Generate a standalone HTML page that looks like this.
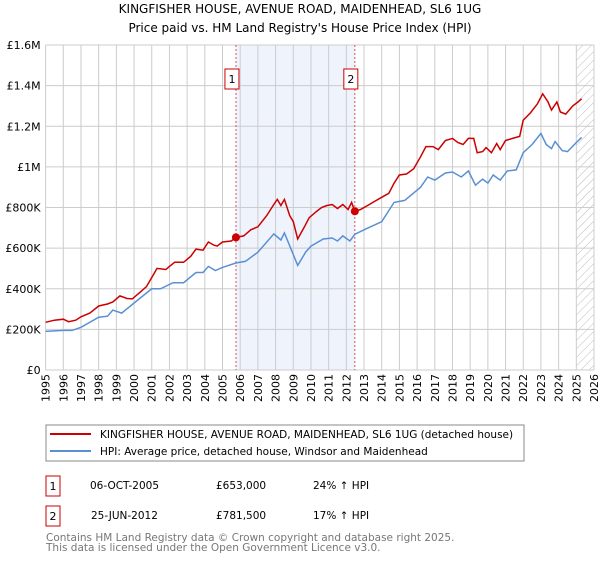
<!DOCTYPE html>
<html><head><meta charset="utf-8"><style>
body{margin:0;background:#fff;font-family:"Liberation Sans","DejaVu Sans",sans-serif;}
svg text{font-family:"DejaVu Sans","Liberation Sans",sans-serif;}
</style></head><body>
<svg id="c" width="600" height="560" xmlns="http://www.w3.org/2000/svg">
<text x="300" y="13" text-anchor="middle" font-size="12" fill="#000">KINGFISHER HOUSE, AVENUE ROAD, MAIDENHEAD, SL6 1UG</text>
<text x="300" y="32" text-anchor="middle" font-size="12" fill="#000">Price paid vs. HM Land Registry's House Price Index (HPI)</text>
<g id="grid"></g><g id="marks"></g><g id="axes"></g>
<rect x="46" y="425" width="478" height="36" fill="#fff" stroke="#888"/>
<line x1="50" y1="434" x2="91" y2="434" stroke="#cc0000" stroke-width="2"/>
<text x="100" y="438" font-size="10.5">KINGFISHER HOUSE, AVENUE ROAD, MAIDENHEAD, SL6 1UG (detached house)</text>
<line x1="50" y1="451" x2="91" y2="451" stroke="#5b8fd4" stroke-width="2"/>
<text x="100" y="455" font-size="10.5">HPI: Average price, detached house, Windsor and Maidenhead</text>
<rect x="46" y="476" width="14" height="20" fill="#fff" stroke="#cc0000"/>
<text x="53" y="490" font-size="11" text-anchor="middle">1</text>
<text x="90" y="489" font-size="10.5">06-OCT-2005</text>
<text x="216" y="489" font-size="10.5">£653,000</text>
<text x="313" y="489" font-size="10.5">24% ↑ HPI</text>
<rect x="46" y="506" width="14" height="20" fill="#fff" stroke="#cc0000"/>
<text x="53" y="520" font-size="11" text-anchor="middle">2</text>
<text x="91" y="519" font-size="10.5">25-JUN-2012</text>
<text x="216" y="519" font-size="10.5">£781,500</text>
<text x="313" y="519" font-size="10.5">17% ↑ HPI</text>
<text x="46" y="541" font-size="10.5" fill="#777">Contains HM Land Registry data © Crown copyright and database right 2025.</text>
<text x="46" y="551" font-size="10.5" fill="#777">This data is licensed under the Open Government Licence v3.0.</text>
</svg>
<script>
const redDates=[1995.0,1995.5,1996.0,1996.3,1996.7,1997.0,1997.5,1998.0,1998.5,1998.8,1999.2,1999.6,1999.9,2000.3,2000.7,2001.0,2001.3,2001.8,2002.0,2002.3,2002.8,2003.2,2003.5,2003.9,2004.2,2004.5,2004.7,2005.0,2005.5,2005.76,2006.2,2006.6,2007.0,2007.5,2007.9,2008.1,2008.3,2008.5,2008.8,2009.0,2009.25,2009.6,2009.9,2010.3,2010.6,2010.9,2011.2,2011.5,2011.8,2012.1,2012.3,2012.48,2012.8,2013.2,2013.6,2014.0,2014.4,2014.7,2015.0,2015.4,2015.8,2016.2,2016.5,2016.9,2017.2,2017.6,2018.0,2018.3,2018.6,2018.9,2019.2,2019.4,2019.7,2019.9,2020.2,2020.5,2020.7,2021.0,2021.4,2021.8,2022.0,2022.4,2022.8,2023.1,2023.4,2023.6,2023.9,2024.1,2024.4,2024.8,2025.1,2025.3];
const redValues=[235,245,250,238,245,262,280,315,325,335,365,352,350,380,410,455,500,495,510,530,530,560,595,590,630,615,610,630,635,653,660,690,705,760,815,840,810,840,760,730,645,700,750,780,800,810,815,795,815,790,825,781,790,810,830,850,870,920,960,965,990,1050,1100,1100,1085,1130,1140,1120,1110,1140,1140,1070,1075,1095,1070,1115,1085,1130,1140,1150,1230,1265,1310,1360,1320,1280,1320,1270,1260,1300,1320,1335];
const hpiDates=[1995.0,1996.0,1996.5,1997.0,1998.0,1998.5,1998.8,1999.3,2000.0,2001.0,2001.5,2002.2,2002.8,2003.5,2003.9,2004.2,2004.6,2005.0,2005.76,2006.3,2007.0,2007.9,2008.3,2008.5,2008.9,2009.25,2009.7,2010.0,2010.7,2011.2,2011.5,2011.8,2012.2,2012.48,2013.0,2014.0,2014.7,2015.3,2016.2,2016.6,2017.0,2017.6,2018.0,2018.5,2018.9,2019.3,2019.7,2020.0,2020.3,2020.7,2021.1,2021.6,2022.0,2022.5,2023.0,2023.3,2023.6,2023.8,2024.2,2024.5,2025.0,2025.3];
const hpiValues=[190,195,195,210,260,265,295,280,330,400,400,430,430,480,480,510,490,505,527,535,580,670,640,675,590,515,580,610,645,650,635,660,635,668,690,730,825,835,900,950,935,970,975,950,980,910,940,920,960,935,980,985,1070,1110,1165,1110,1090,1125,1080,1075,1120,1145];
const saleDates=[2005.76,2012.48];
const saleValues=[653,781.5];
const saleLabels=["1","2"];
const yTicks=[0,200,400,600,800,1000,1200,1400,1600];
const yTickLabels=["£0","£200K","£400K","£600K","£800K","£1M","£1.2M","£1.4M","£1.6M"];
const xTicks=[1995,1996,1997,1998,1999,2000,2001,2002,2003,2004,2005,2006,2007,2008,2009,2010,2011,2012,2013,2014,2015,2016,2017,2018,2019,2020,2021,2022,2023,2024,2025,2026];
const forecastStart=2025.0;

const X0=45.6,X1=594,Y0=370,Y1=45;
const x=d=>X0+(d-1995)/(2026-1995)*(X1-X0);
const y=v=>Y0-v/1600*(Y0-Y1);
const NS="http://www.w3.org/2000/svg";
function mk(t,a,p){const e=document.createElementNS(NS,t);for(const k in a)e.setAttribute(k,a[k]);p.appendChild(e);return e;}
const grid=document.getElementById('grid'),marks=document.getElementById('marks'),axes=document.getElementById('axes');
let sh=mk('rect',{x:x(saleDates[0]),y:Y1,width:x(saleDates[1])-x(saleDates[0]),height:Y0-Y1,fill:'#eef3fc'},grid);


const defs=mk('defs',{},grid);
const pat=mk('pattern',{id:'h',width:6,height:6,patternUnits:'userSpaceOnUse',patternTransform:'rotate(45)'},defs);
mk('line',{x1:0,y1:0,x2:0,y2:6,stroke:'#bbb','stroke-width':1},pat);
let ht=mk('rect',{x:x(forecastStart),y:Y1,width:X1-x(forecastStart),height:Y0-Y1,fill:'url(#h)'},grid);


xTicks.forEach(t=>{
 const l=mk('line',{x1:x(t),y1:Y1,x2:x(t),y2:Y0,stroke:'#ccc'},grid);
 
 
 const tx=mk('text',{x:0,y:0,'text-anchor':'end','font-size':'11',transform:'translate('+(x(t)+4)+','+(Y0+4)+') rotate(-90)'},axes);
 tx.textContent=t;
 
 
});
yTicks.forEach((t,i)=>{
 const l=mk('line',{x1:X0,y1:y(t),x2:X1,y2:y(t),stroke:'#ccc'},grid);
 
 
 const tx=mk('text',{x:X0-5,y:y(t)+4,'text-anchor':'end','font-size':'11'},axes);
 tx.textContent=yTickLabels[i];
 
 
});
saleDates.forEach((d,i)=>{
 const l=mk('line',{x1:x(d),y1:Y1,x2:x(d),y2:Y0,stroke:'#e05050','stroke-dasharray':'2,2'},grid);
 
 
 const b=mk('rect',{x:x(d)-11,y:69,width:14,height:20,fill:'#fff',stroke:'#cc0000'},grid);
 
 
 const t=mk('text',{x:x(d)-4,y:83,'text-anchor':'middle','font-size':'11'},grid);
 t.textContent=saleLabels[i];
});
function path(ds,vs,c,name){
 const p=mk('path',{d:ds.map((d,i)=>(i?'L':'M')+x(d).toFixed(1)+','+y(vs[i]).toFixed(1)).join(''),fill:'none',stroke:c,'stroke-width':1.5},marks);
 
 
}
path(hpiDates,hpiValues,'#5b8fd4','hpi-line');
path(redDates,redValues,'#cc0000','property-price-line');
saleDates.forEach((d,i)=>{
 const c=mk('circle',{cx:x(d),cy:y(saleValues[i]),r:4,fill:'#cc0000'},marks);
 
 
});
</script>
</body></html>
